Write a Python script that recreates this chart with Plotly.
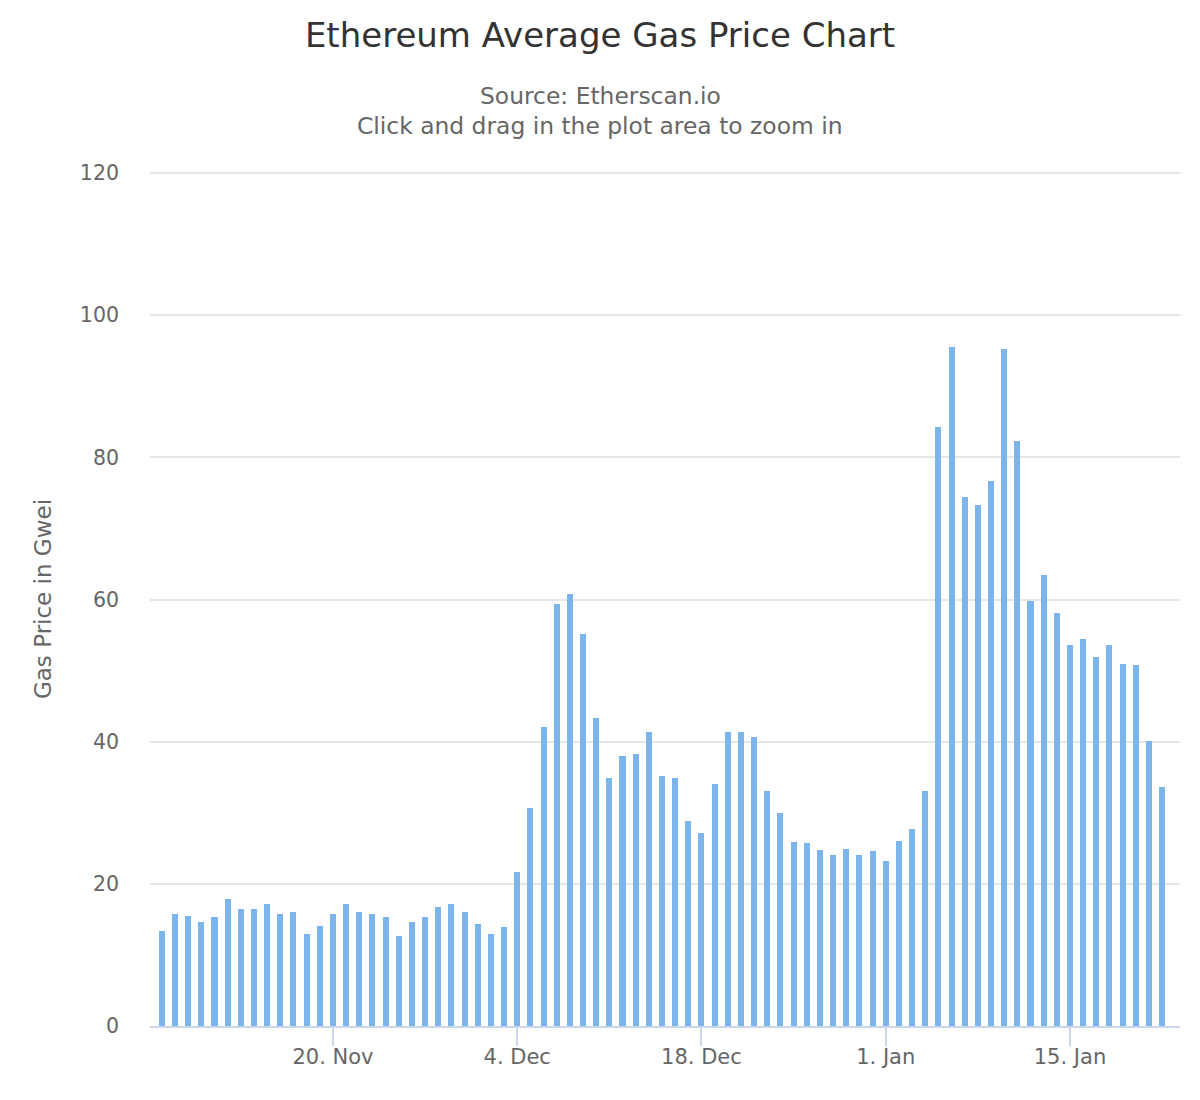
import plotly.graph_objects as go
import pandas as pd

dates = pd.date_range("2017-11-07", "2018-01-22", freq="D").strftime("%Y-%m-%d").tolist()
gas_price = [
    13.3, 15.8, 15.5, 14.7, 15.3, 17.8, 16.4, 16.4, 17.2, 15.8, 16.1, 13.0, 14.1, 15.8,
    17.2, 16.1, 15.8, 15.3, 12.7, 14.7, 15.3, 16.7, 17.2, 16.1,
    14.4, 13.0, 13.9, 21.7, 30.7, 42.0, 59.4, 60.8, 55.2, 43.4, 34.9, 38.0, 38.3, 41.4,
    35.2, 34.9, 28.8, 27.1, 34.1, 41.4, 41.4, 40.6, 33.0, 29.9, 25.9, 25.7, 24.8, 24.0,
    24.9, 24.0, 24.6,
    23.2, 26.0, 27.7, 33.0, 84.3, 95.5, 74.4, 73.3, 76.7, 95.3, 82.3, 59.8, 63.5, 58.1,
    53.6, 54.4, 51.9, 53.6, 51.0, 50.8, 40.1, 33.6,
]
tick_dates = ["2017-11-20", "2017-12-04", "2017-12-18", "2018-01-01", "2018-01-15"]
tick_labels = ["20. Nov", "4. Dec", "18. Dec", "1. Jan", "15. Jan"]
y_ticks = [0, 20, 40, 60, 80, 100, 120]

FONT = "DejaVu Sans"
W, H = 1200, 1100
# page offset of 8px (body margin) compensated in margins
L, R, T, B = 142, 28, 164, 82
PH = H - T - B  # plot height in px
PW = W - L - R

fig = go.Figure(
    go.Bar(
        x=dates,
        y=gas_price,
        marker=dict(color="#7cb5ec", line=dict(width=0)),
        width=0.46 * 86400000,
        name="Gas Price",
    )
)

sub_x = (600 - 150) / PW

fig.update_layout(
    width=W,
    height=H,
    margin=dict(l=L, r=R, t=T, b=B),
    paper_bgcolor="white",
    plot_bgcolor="white",
    showlegend=False,
    font=dict(family=FONT, color="#666666"),
    title=dict(
        text="Ethereum Average Gas Price Chart",
        x=592 / W,
        xanchor="center",
        y=1 - 27 / H,
        yanchor="middle",
        font=dict(family=FONT, size=34, color="#333333"),
    ),
    annotations=[
        dict(
            text="Source: Etherscan.io",
            xref="paper", yref="paper",
            x=sub_x, y=(1026 - 96) / PH,
            xanchor="center", yanchor="middle",
            showarrow=False,
            font=dict(family=FONT, size=23.4, color="#666666"),
        ),
        dict(
            text="Click and drag in the plot area to zoom in",
            xref="paper", yref="paper",
            x=sub_x, y=(1026 - 126) / PH,
            xanchor="center", yanchor="middle",
            showarrow=False,
            font=dict(family=FONT, size=23.4, color="#666666"),
        ),
    ],
    bargap=0,
)

fig.update_xaxes(
    type="date",
    range=["2017-11-06 02:24", "2018-01-23 08:38"],
    tickvals=tick_dates,
    ticktext=tick_labels,
    ticks="outside",
    ticklen=18,
    tickwidth=2,
    tickcolor="#ccd6eb",
    ticklabelstandoff=-7,
    showline=True,
    linecolor="#ccd6eb",
    linewidth=2,
    showgrid=False,
    zeroline=False,
    tickfont=dict(family=FONT, size=21, color="#666666"),
)

fig.update_yaxes(
    range=[0, 120.15],
    tickvals=y_ticks,
    showgrid=True,
    gridcolor="#e6e6e6",
    gridwidth=2,
    zeroline=False,
    showline=False,
    ticks="",
    ticklabelstandoff=30,
    tickfont=dict(family=FONT, size=20.5, color="#666666"),
    title=dict(
        text="Gas Price in Gwei",
        font=dict(family=FONT, size=23, color="#666666"),
        standoff=21,
    ),
)

fig.write_html("out.html")
